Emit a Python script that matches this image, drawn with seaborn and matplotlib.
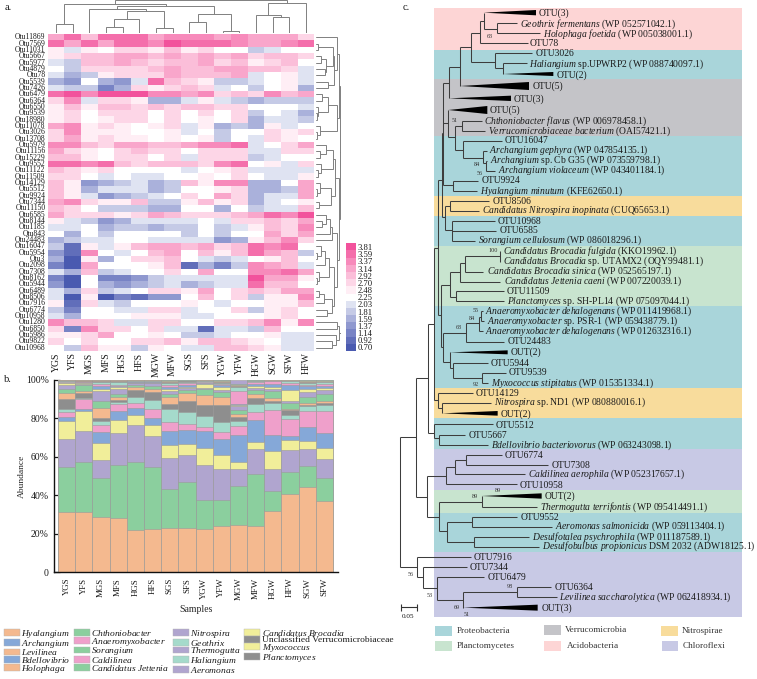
import matplotlib
matplotlib.use("Agg")
import numpy as np
import pandas as pd
import seaborn as sns
import matplotlib.pyplot as plt
from matplotlib.colors import ListedColormap
from matplotlib.patches import Patch, Polygon, Rectangle

# ---- panel a: heatmap values ----
otu_names = ["Otu11869", "Otu7569", "Otu11031", "Otu5667", "Otu5977", "Otu4879", "Otu78", "Otu5539", "Otu7426", "Otu6479",
             "Otu6364", "Otu6550", "Otu9539", "Otu18980", "Otu11078", "Otu3026", "Otu13708", "Otu5979", "Otu11156", "Otu15229",
             "Otu9552", "Otu11122", "Otu11509", "Otu14129", "Otu5512", "Otu9924", "Otu7344", "Otu11150", "Otu6585", "Otu8144",
             "Otu1185", "Otu843", "Otu24483", "Otu16047", "Otu5954", "Otu3", "Otu2098", "Otu7308", "Otu8162", "Otu5944",
             "Otu6489", "Otu8506", "Otu7916", "Otu6774", "Otu10958", "Otu1280", "Otu6850", "Otu5986", "Otu9822", "Otu10968"]
heat_samples = ["YGS", "YFS", "MGS", "MFS", "HGS", "HFS", "MGW", "MFW", "SGS", "SFS", "YGW", "YFW", "HGW", "SGW", "SFW", "HFW"]
heat_values = [
    [3.2, 3.5, 3.0, 3.6, 3.5, 3.6, 3.1, 3.3, 3.4, 3.4, 3.2, 3.4, 3.1, 3.1, 3.1, 2.6],
    [3.6, 3.2, 3.6, 3.2, 3.5, 3.5, 3.3, 3.7, 3.5, 3.5, 3.5, 3.4, 3.2, 3.2, 3.4, 3.5],
    [2.5, 2.1, 2.5, 2.36, 2.8, 2.7, 2.5, 3.0, 2.5, 2.8, 2.36, 2.36, 1.8, 2.1, 2.36, 2.36],
    [2.5, 2.7, 3.0, 3.0, 3.2, 3.1, 2.9, 3.1, 3.0, 3.2, 2.9, 3.1, 2.6, 3.0, 3.0, 2.7],
    [2.1, 1.8, 2.9, 2.9, 3.1, 3.0, 2.7, 3.0, 2.9, 3.1, 2.8, 3.0, 2.5, 2.7, 2.9, 2.36],
    [2.36, 1.8, 2.7, 2.7, 2.8, 2.8, 3.0, 3.1, 3.0, 3.0, 3.1, 3.2, 2.9, 2.9, 2.6, 2.1],
    [2.1, 1.6, 1.8, 2.5, 2.7, 2.7, 2.8, 3.1, 3.0, 3.0, 3.0, 3.2, 2.1, 2.36, 2.5, 2.1],
    [1.6, 1.3, 2.36, 1.6, 1.3, 2.1, 3.5, 3.0, 2.7, 2.5, 1.7, 1.7, 2.1, 2.36, 2.5, 2.1],
    [2.1, 1.8, 1.8, 1.1, 1.6, 2.7, 2.5, 2.8, 2.9, 2.6, 2.1, 2.36, 1.8, 2.36, 2.5, 1.5],
    [3.6, 3.7, 3.3, 3.7, 3.7, 3.8, 3.4, 3.4, 3.1, 3.4, 2.8, 3.0, 2.8, 3.3, 3.0, 3.1],
    [2.7, 3.3, 2.1, 2.7, 2.7, 2.5, 1.6, 1.5, 2.1, 2.5, 2.1, 1.8, 1.5, 1.7, 1.7, 1.7],
    [2.5, 3.0, 2.5, 2.9, 2.9, 2.8, 2.9, 2.8, 2.9, 3.0, 2.8, 2.7, 2.36, 2.36, 2.36, 2.1],
    [2.5, 2.8, 2.36, 2.6, 2.8, 2.7, 2.36, 2.7, 2.36, 2.6, 2.36, 2.6, 1.8, 2.36, 2.1, 1.6],
    [2.5, 2.7, 2.36, 2.5, 2.7, 2.7, 2.36, 2.6, 2.36, 2.5, 2.36, 2.6, 1.6, 2.1, 2.1, 1.8],
    [3.1, 3.4, 2.5, 2.7, 2.5, 2.36, 2.5, 2.8, 2.1, 2.5, 1.6, 1.8, 1.5, 2.5, 2.1, 2.36],
    [2.8, 3.3, 2.5, 2.5, 2.5, 2.36, 2.36, 2.5, 2.1, 2.36, 1.8, 2.36, 2.36, 2.7, 2.5, 2.7],
    [2.8, 3.2, 2.5, 2.7, 2.5, 2.5, 2.36, 2.5, 2.36, 2.5, 1.8, 2.36, 2.1, 2.7, 2.5, 2.36],
    [3.3, 3.4, 2.9, 2.7, 3.1, 3.2, 3.0, 3.0, 3.1, 3.4, 3.4, 3.6, 2.1, 2.36, 2.8, 3.2],
    [3.1, 2.8, 2.5, 2.36, 2.8, 3.0, 2.6, 2.7, 2.36, 2.8, 2.7, 2.8, 2.1, 2.1, 2.6, 2.7],
    [3.0, 3.0, 2.5, 2.36, 2.6, 2.8, 2.36, 2.6, 2.1, 2.6, 2.7, 2.8, 1.8, 2.1, 2.36, 2.36],
    [3.5, 3.5, 3.3, 3.5, 3.0, 2.6, 3.0, 3.0, 2.9, 2.7, 3.3, 3.5, 2.36, 2.5, 2.1, 2.7],
    [2.9, 2.8, 2.5, 2.6, 2.36, 2.36, 2.36, 2.36, 2.1, 2.36, 2.5, 2.6, 2.1, 2.1, 2.1, 2.1],
    [2.8, 2.8, 2.36, 2.1, 2.36, 2.1, 2.1, 2.36, 2.36, 2.5, 2.36, 2.8, 2.36, 2.1, 2.1, 2.5],
    [3.0, 2.5, 1.3, 1.6, 1.8, 2.1, 1.6, 1.8, 3.0, 2.5, 3.3, 3.3, 1.5, 1.5, 2.36, 3.1],
    [3.0, 2.5, 1.6, 2.1, 2.1, 2.1, 1.6, 1.8, 2.36, 2.36, 2.5, 2.6, 1.6, 1.6, 1.8, 3.1],
    [3.0, 2.5, 2.1, 1.3, 1.5, 1.8, 2.1, 2.36, 2.8, 2.36, 3.1, 2.7, 1.6, 2.1, 2.1, 3.1],
    [3.2, 3.3, 2.6, 2.5, 2.5, 2.9, 1.8, 1.8, 2.5, 3.0, 2.5, 2.8, 1.6, 2.1, 2.36, 2.5],
    [3.0, 2.8, 2.36, 1.8, 1.8, 1.8, 1.5, 1.5, 2.36, 2.36, 1.6, 2.36, 1.8, 2.1, 2.1, 3.0],
    [3.1, 2.8, 2.8, 2.8, 2.5, 2.6, 3.1, 2.9, 2.8, 2.6, 2.6, 2.9, 3.1, 3.6, 3.3, 3.7],
    [2.5, 2.1, 1.8, 1.3, 1.5, 2.1, 2.1, 2.1, 2.1, 2.36, 2.1, 2.8, 2.6, 2.9, 2.8, 3.2],
    [2.1, 2.1, 2.36, 1.6, 1.8, 1.8, 1.5, 1.8, 1.7, 2.36, 1.8, 2.1, 2.5, 2.9, 2.8, 3.3],
    [2.36, 1.6, 2.36, 1.8, 2.36, 2.36, 2.36, 2.36, 1.8, 2.36, 1.8, 2.36, 2.36, 3.1, 2.8, 3.1],
    [1.6, 1.8, 2.1, 2.1, 2.36, 2.36, 2.1, 2.1, 2.1, 2.1, 1.3, 1.5, 2.5, 2.9, 3.3, 2.7],
    [1.8, 1.0, 2.5, 2.1, 2.5, 2.9, 3.1, 3.1, 2.9, 3.1, 2.6, 2.9, 3.5, 3.4, 3.6, 2.36],
    [1.3, 0.9, 3.3, 2.36, 2.1, 2.36, 3.0, 3.2, 2.36, 2.9, 2.5, 2.9, 3.6, 3.1, 3.0, 1.8],
    [1.6, 0.8, 2.5, 1.6, 2.36, 2.8, 2.6, 3.0, 2.36, 2.1, 1.8, 2.1, 2.36, 2.5, 2.9, 2.36],
    [1.1, 0.7, 3.2, 2.36, 2.36, 2.36, 2.5, 3.0, 1.0, 1.5, 1.2, 1.8, 3.4, 3.2, 3.0, 2.1],
    [2.1, 1.5, 2.9, 1.8, 2.1, 2.36, 2.36, 2.6, 2.36, 3.1, 2.36, 2.36, 3.3, 3.3, 3.6, 3.1],
    [1.2, 0.8, 2.36, 1.1, 1.2, 1.4, 1.7, 2.1, 2.1, 2.1, 2.1, 2.1, 3.7, 3.2, 3.2, 2.5],
    [1.3, 0.8, 2.36, 1.6, 1.3, 1.5, 1.8, 2.1, 1.5, 1.8, 2.1, 2.1, 3.6, 2.9, 2.9, 2.36],
    [2.1, 1.5, 2.8, 1.8, 2.1, 2.36, 2.8, 2.8, 2.5, 3.1, 2.36, 2.8, 2.9, 2.7, 3.1, 3.1],
    [2.1, 0.8, 2.5, 0.8, 1.1, 1.0, 1.3, 1.3, 2.36, 2.9, 2.36, 2.7, 1.7, 2.5, 2.5, 3.4],
    [2.5, 0.9, 2.8, 2.1, 1.7, 2.36, 2.36, 2.36, 2.5, 2.36, 2.1, 2.36, 2.36, 2.5, 2.5, 2.9],
    [1.8, 1.2, 2.36, 2.36, 2.1, 2.1, 2.7, 2.8, 2.1, 2.36, 2.36, 2.8, 1.8, 2.5, 2.6, 2.36],
    [2.1, 1.5, 2.36, 2.36, 2.36, 2.5, 2.5, 2.5, 2.1, 2.1, 2.36, 2.36, 2.36, 2.5, 2.8, 2.36],
    [3.3, 3.0, 3.0, 2.8, 2.1, 2.1, 2.8, 2.7, 2.36, 2.36, 2.8, 2.8, 3.0, 3.3, 2.5, 3.4],
    [2.8, 1.1, 3.3, 2.8, 2.8, 2.36, 2.8, 2.1, 2.1, 0.9, 2.1, 2.1, 1.8, 3.0, 2.36, 2.36],
    [2.5, 2.5, 2.8, 3.1, 2.36, 2.36, 2.5, 2.36, 1.8, 1.7, 2.1, 2.36, 2.36, 2.5, 2.1, 2.1],
    [2.8, 2.36, 2.8, 2.36, 2.36, 2.6, 2.6, 2.9, 2.5, 3.0, 2.9, 2.7, 2.5, 2.36, 2.1, 2.1],
    [2.36, 1.8, 3.0, 2.5, 2.5, 1.8, 2.5, 2.36, 2.1, 2.1, 3.0, 3.0, 2.6, 2.5, 2.1, 2.1],
]
cbar_levels = [0.70, 0.92, 1.14, 1.37, 1.59, 1.81, 2.03, 2.25, 2.48, 2.70, 2.92, 3.14, 3.37, 3.59, 3.81]

# dendrograms: (height, left, right), a leaf is its row or column number
col_a = (83, (73, 2, (68, (42, (20, 3, 4), 5), (15, 6, 7))), (58, (33, 8, 9), (8, 10, 11)))
col_tree = (100, (87, (27, 0, 1), col_a), (92, (55, 12, (48, 13, 14)), 15))
row_a = (82, 0, (72, (55, 7, 8), (68, (25, 1, 2), (48, (33, 3, 4), (45, 5, 6)))))
row_b = (80, (55, (35, 9, 10), (24, 11, (20, 12, 13))), (30, 14, (22, 15, 16)))
row_c = (75, (68, (48, 17, (30, 18, 19)), (32, 20, (24, 21, 22))), (62, (30, 23, (22, 24, 25)), (28, 26, 27)))
row_d = (66, (60, (48, 28, (35, 29, 30)), 31), 32)
row_e = (72, (58, (45, (32, 33, (22, 34, 35)), 36), (28, 37, (22, 38, 39))), (66, (42, (28, 40, 41), 42), (50, 43, 44)))
row_f = (86, (80, 45, 46), (78, 47, (65, 48, 49)))
row_tree = (92, (90, (88, row_a, row_b), (86, row_c, (80, row_d, row_e))), row_f)

# ---- panel b: stacked abundance, cumulative tops per sample ----
bar_samples = ["YGS", "YFS", "MGS", "MFS", "HGS", "HFS", "SGS", "SFS", "YGW", "YFW", "MGW", "MFW", "HGW", "HFW", "SGW", "SFW"]
stack_tops = [
    [31.2, 54.5, 69.2, 78.4, 80.8, 83.2, 84.9, 90.1, 93, 95.1, 97.4, 98, 98.4, 98.7, 99, 99.3, 99.5, 99.8, 100],
    [31.3, 57.2, 73.1, 83.5, 84.7, 90, 90.3, 93, 94, 97, 97.6, 98, 98.3, 98.6, 98.9, 99.2, 99.5, 99.8, 100],
    [28.6, 49, 58, 67, 72.9, 76.3, 78.4, 80.2, 85, 88.6, 94, 95.2, 96.5, 97.5, 98.8, 99.2, 99.5, 99.8, 100],
    [28.2, 55.8, 72.4, 78.9, 83.8, 87.2, 88.4, 89.5, 91, 92.5, 95.3, 96, 96.8, 97.3, 98.8, 99.2, 99.5, 99.8, 100],
    [21.8, 57, 76.3, 81.4, 85.2, 88, 91, 94.8, 96.3, 97, 98, 98.3, 98.6, 98.9, 99.1, 99.3, 99.5, 99.8, 100],
    [22.2, 54.8, 70.9, 76.3, 80.2, 84.5, 89.6, 93.5, 95.3, 96.6, 98, 98.3, 98.6, 98.9, 99.1, 99.3, 99.5, 99.8, 100],
    [23.1, 43.2, 59.2, 65.8, 73.2, 77.7, 84.8, 87.5, 91, 92.5, 94, 95, 96, 97.2, 98, 98.8, 99.2, 99.6, 100],
    [22.8, 46.7, 61, 66.8, 73.6, 76.8, 83.2, 88.8, 92.8, 94.3, 95.5, 96.3, 97, 98, 98.6, 99, 99.4, 99.7, 100],
    [22.2, 37.4, 55.8, 64.4, 73.4, 75.5, 81, 87, 92, 95, 95.8, 97.7, 98.4, 98.8, 99.1, 99.4, 99.6, 99.8, 100],
    [24.2, 37.7, 53.8, 60.7, 69.1, 72.8, 78, 86.7, 91, 93.5, 94.5, 96, 97, 97.5, 98, 98.5, 99, 99.5, 100],
    [24.5, 44.6, 53.4, 57.3, 71, 76, 78.5, 80.5, 82, 84, 86.3, 87, 87.3, 94, 96, 96.5, 97, 97.8, 100],
    [23.9, 51, 63.8, 67.6, 78.8, 83, 87.4, 90.5, 92.7, 94.5, 95.7, 96.7, 97.7, 98.8, 99, 99.2, 99.4, 99.7, 100],
    [31.9, 42.1, 53.7, 62.9, 71.4, 84.4, 88, 89, 90.4, 93.8, 95, 96, 97.7, 99, 99.2, 99.4, 99.6, 99.8, 100],
    [40.7, 52, 63.6, 68.5, 70.6, 79.4, 81.5, 84, 84.8, 87.8, 89, 94.6, 97.2, 98, 99, 99.3, 99.5, 99.8, 100],
    [44.3, 55.2, 63.7, 68, 75.4, 83.8, 86, 87, 87.7, 90.8, 93.6, 95, 96.5, 97.3, 98.3, 98.8, 99.2, 99.6, 100],
    [37, 49, 59, 64.3, 72.5, 83.7, 87, 88, 89, 92.5, 94.4, 95.5, 96.7, 97.5, 98.5, 98.9, 99.3, 99.7, 100],
]
bar_colors = ["#f4b98f", "#8bcf9e", "#b0a5cf", "#f1ee9a", "#85a8d8", "#efa0cb", "#a5dacb", "#8e8e8e"]
# taxa from the bottom of the stack up; colours cycle through bar_colors
stack_taxa = [r"$\mathit{Hyalangium}$", r"$\mathit{Chthoniobacter}$", r"$\mathit{Nitrospira}$", r"$\mathit{Candidatus\ Brocadia}$",
              r"$\mathit{Archangium}$", r"$\mathit{Anaeromyxobacter}$", r"$\mathit{Geothrix}$", "Unclassified Verrucomicrobiaceae",
              r"$\mathit{Levilinea}$", r"$\mathit{Sorangium}$", r"$\mathit{Thermogutta}$", r"$\mathit{Myxococcus}$",
              r"$\mathit{Bdellovibrio}$", r"$\mathit{Caldilinea}$", r"$\mathit{Haliangium}$", r"$\mathit{Planctomyces}$",
              r"$\mathit{Holophaga}$", r"$\mathit{Candidatus\ Jettenia}$", r"$\mathit{Aeromonas}$"]
legend_order = [0, 4, 8, 12, 16, 1, 5, 9, 13, 17, 2, 6, 10, 14, 18, 3, 7, 11, 15]

# ---- panel c: tree, x and y in tree units (3 per pixel) ----
phyla = {"Proteobacteria": "#a9d5da", "Planctomycetes": "#c8e4cf", "Verrucomicrobia": "#c4c4c8",
         "Acidobacteria": "#fdd5d5", "Nitrospirae": "#f8dc9c", "Chloroflexi": "#c8c9e5"}
tree_bands = [("Acidobacteria", 24, 149), ("Proteobacteria", 149, 237), ("Verrucomicrobia", 237, 407),
              ("Proteobacteria", 407, 588), ("Nitrospirae", 588, 647), ("Proteobacteria", 647, 737),
              ("Planctomycetes", 737, 918), ("Proteobacteria", 918, 1163), ("Nitrospirae", 1163, 1253),
              ("Proteobacteria", 1253, 1348), ("Chloroflexi", 1348, 1469), ("Planctomycetes", 1469, 1538),
              ("Proteobacteria", 1538, 1655), ("Chloroflexi", 1655, 1851)]
tree_h = [(70, 350, 410), (100, 350, 480), (88, 311, 350), (130, 300, 443), (62, 300, 311), (98, 272, 300),
          (140, 240, 272), (185, 272, 345), (160, 345, 455), (205, 345, 370), (190, 370, 440), (200, 207, 240),
          (250, 190, 207), (400, 185, 190), (370, 190, 205), (410, 205, 224), (378, 224, 247), (362, 247, 305),
          (392, 247, 315), (450, 224, 248), (422, 248, 365), (475, 248, 308), (452, 308, 320), (490, 308, 318),
          (482, 318, 322), (512, 318, 345), (555, 190, 220), (542, 220, 295), (572, 220, 290), (540, 175, 185),
          (650, 185, 195), (618, 195, 210), (603, 210, 328), (632, 210, 298), (690, 195, 215), (663, 215, 345),
          (692, 215, 348), (722, 215, 285), (745, 163, 175), (945, 175, 183), (855, 183, 210), (815, 210, 241),
          (790, 241, 255), (768, 255, 360), (815, 255, 310), (845, 241, 360), (890, 210, 228), (873, 228, 372),
          (904, 228, 372), (1040, 183, 188), (998, 188, 257), (970, 257, 297), (1025, 257, 373), (950, 297, 302),
          (934, 302, 310), (964, 302, 313), (993, 297, 308), (1085, 188, 210), (1105, 210, 218), (1090, 218, 323),
          (1133, 218, 307), (1118, 307, 378), (1150, 307, 323), (1200, 163, 175), (1180, 175, 278), (1225, 175, 187),
          (1209, 187, 333), (973, 145, 163), (1298, 145, 163), (1272, 163, 338), (1315, 163, 178), (1305, 178, 255),
          (1335, 178, 325), (1135, 108, 145), (1310, 60, 108), (1490, 108, 140), (1428, 140, 198), (1402, 198, 225),
          (1380, 225, 257), (1365, 257, 365), (1395, 257, 505), (1423, 225, 435), (1453, 198, 410), (1550, 140, 178),
          (1505, 178, 305), (1520, 305, 470), (1593, 178, 202), (1565, 202, 275), (1550, 275, 412), (1580, 275, 515),
          (1625, 202, 283), (1610, 283, 447), (1640, 283, 477), (1700, 60, 112), (1670, 112, 272), (1730, 112, 128),
          (1700, 128, 260), (1765, 128, 170), (1730, 170, 312), (1800, 170, 250), (1775, 250, 410), (1760, 410, 513),
          (1790, 410, 530)]
tree_v = [(311, 38, 88), (350, 70, 100), (300, 62, 130), (272, 98, 185), (345, 160, 205), (370, 190, 222), (240, 140, 258),
          (207, 200, 295), (190, 250, 555), (205, 330, 410), (224, 378, 450), (247, 362, 392), (248, 422, 475),
          (308, 452, 490), (318, 482, 512), (220, 542, 572), (185, 400, 650), (195, 618, 690), (210, 603, 632),
          (215, 663, 722), (175, 540, 945), (163, 745, 1200), (183, 855, 1040), (210, 815, 890), (241, 790, 845),
          (255, 768, 815), (360, 753, 785), (228, 873, 904), (188, 998, 1085), (257, 970, 1025), (297, 950, 993),
          (302, 934, 964), (210, 1057, 1105), (218, 1090, 1133), (307, 1118, 1150), (175, 1180, 1225), (187, 1209, 1240),
          (145, 973, 1298), (163, 1272, 1315), (178, 1305, 1335), (108, 1135, 1490), (60, 1310, 1700), (140, 1428, 1550),
          (198, 1402, 1453), (225, 1380, 1423), (257, 1365, 1395), (178, 1505, 1593), (305, 1488, 1520), (202, 1565, 1625),
          (275, 1550, 1580), (283, 1610, 1640), (112, 1670, 1730), (128, 1700, 1765), (170, 1730, 1800), (250, 1775, 1823),
          (410, 1760, 1790)]
# collapsed clades: apex x, apex y, end x, half height
tree_wedges = [(311, 38, 468, 8), (370, 222, 520, 6), (240, 258, 447, 12), (207, 295, 393, 8), (205, 330, 322, 12),
               (210, 1057, 383, 6), (187, 1240, 353, 7), (305, 1488, 485, 8), (250, 1823, 473, 9)]
tree_tips = [(475, 40, "OTU(3)"), (420, 73, r"$\mathit{Geothrix\ fermentans}$ (WP 052571042.1)"),
             (488, 104, r"$\mathit{Holophaga\ foetida}$ (WP 005038001.1)"), (450, 132, "OTU78"), (467, 162, "OTU3026"),
             (447, 192, r"$\mathit{Haliangium}$ sp.UPWRP2 (WP 088740097.1)"), (530, 226, "OTU(2)"), (458, 260, "OTU(5)"),
             (402, 297, "OTU(3)"), (328, 330, "OTU(5)"), (312, 363, r"$\mathit{Chthoniobacter\ flavus}$ (WP 006978458.1)"),
             (325, 393, r"$\mathit{Verrucomicrobiaceae\ bacterium}$ (OAI57421.1)"), (373, 422, "OTU16047"),
             (328, 452, r"$\mathit{Archangium\ gephyra}$ (WP 047854135.1)"), (330, 482, r"$\mathit{Archangium}$ sp. Cb G35 (WP 073559798.1)"),
             (353, 512, r"$\mathit{Archangium\ violaceum}$ (WP 043401184.1)"), (305, 542, "OTU9924"),
             (300, 573, r"$\mathit{Hyalangium\ minutum}$ (KFE62650.1)"), (337, 604, "OTU8506"),
             (306, 632, r"$\mathit{Candidatus\ Nitrospira\ inopinata}$ (CUQ65653.1)"), (353, 663, "OTU10968"), (358, 692, "OTU6585"),
             (293, 721, r"$\mathit{Sorangium\ cellulosum}$ (WP 086018296.1)"), (370, 753, r"$\mathit{Candidatus\ Brocadia\ fulgida}$ (KKO19962.1)"),
             (370, 785, r"$\mathit{Candidatus\ Brocadia}$ sp. UTAMX2 (OQY99481.1)"), (320, 815, r"$\mathit{Candidatus\ Brocadia\ sinica}$ (WP 052565197.1)"),
             (372, 845, r"$\mathit{Candidatus\ Jettenia\ caeni}$ (WP 007220039.1)"), (380, 875, "OTU11509"),
             (380, 905, r"$\mathit{Planctomyces}$ sp. SH-PL14 (WP 075097044.1)"), (315, 934, r"$\mathit{Anaeromyxobacter\ dehalogenans}$ (WP 011419968.1)"),
             (320, 964, r"$\mathit{Anaeromyxobacter}$ sp. PSR-1 (WP 059438779.1)"), (315, 994, r"$\mathit{Anaeromyxobacter\ dehalogenans}$ (WP 012632316.1)"),
             (382, 1025, "OTU24483"), (392, 1058, "OUT(2)"), (332, 1090, "OTU5944"), (387, 1118, "OTU9539"),
             (332, 1150, r"$\mathit{Myxococcus\ stipitatus}$ (WP 015351334.1)"), (287, 1181, "OTU14129"),
             (341, 1208, r"$\mathit{Nitrospira}$ sp. ND1 (WP 080880016.1)"), (361, 1242, "OUT(2)"), (347, 1276, "OTU5512"), (266, 1307, "OTU5667"),
             (333, 1335, r"$\mathit{Bdellovibrio\ bacteriovorus}$ (WP 063243098.1)"), (375, 1365, "OTU6774"), (515, 1395, "OTU7308"),
             (443, 1423, r"$\mathit{Caldilinea\ aerophila}$ (WP 052317657.1)"), (419, 1455, "OTU10958"), (494, 1490, "OUT(2)"),
             (480, 1521, r"$\mathit{Thermogutta\ terrifontis}$ (WP 095414491.1)"), (421, 1552, "OTU9552"),
             (525, 1580, r"$\mathit{Aeromonas\ salmonicida}$ (WP 059113404.1)"), (456, 1611, r"$\mathit{Desulfotalea\ psychrophila}$ (WP 011187589.1)"),
             (487, 1640, r"$\mathit{Desulfobulbus\ propionicus}$ DSM 2032 (ADW18125.1)"), (282, 1672, "OTU7916"), (270, 1702, "OTU7344"),
             (322, 1731, "OTU6479"), (523, 1762, "OTU6364"), (538, 1791, r"$\mathit{Levilinea\ saccharolytica}$ (WP 062418934.1)"),
             (485, 1826, "OUT(3)")]
tree_support = [(330, 108, "63"), (225, 362, "51"), (290, 495, "84"), (300, 520, "56"), (338, 752, "100"), (286, 932, "55"),
                (276, 955, "84"), (237, 982, "68"), (287, 1155, "92"), (285, 1488, "89"), (353, 1472, "89"), (390, 1761, "98"),
                (92, 1723, "56"), (150, 1787, "53"), (230, 1822, "69"), (260, 1845, "51")]
phylum_legend = [("Proteobacteria", 165, 1878, 230), ("Planctomycetes", 165, 1923, 230), ("Verrucomicrobia", 493, 1875, 555),
                 ("Acidobacteria", 493, 1924, 560), ("Nitrospirae", 843, 1878, 905), ("Chloroflexi", 845, 1924, 907)]

W, H = 757, 679
sns.set_theme(style="white")
plt.rcParams["font.family"] = ["Liberation Serif", "DejaVu Serif"]
plt.rcParams["mathtext.fontset"] = "custom"
plt.rcParams["mathtext.rm"] = "Liberation Serif"
plt.rcParams["mathtext.it"] = "Liberation Serif:italic"
plt.rcParams["text.color"] = "#1a1a1a"
plt.rcParams["xtick.color"] = "#1a1a1a"
plt.rcParams["ytick.color"] = "#1a1a1a"

fig = plt.figure(figsize=(W / 100, H / 100), dpi=100, facecolor="white")


def px_axes(left, top, right, bottom):
    return fig.add_axes([left / W, 1 - bottom / H, (right - left) / W, (bottom - top) / H])


def draw_tree(node, ax, sideways, leaf_height):
    if not isinstance(node, tuple):
        return node + 0.5, leaf_height
    pa, ha = draw_tree(node[1], ax, sideways, leaf_height)
    pb, hb = draw_tree(node[2], ax, sideways, leaf_height)
    pos = [pa, pa, pb, pb]
    hgt = [ha, node[0], node[0], hb]
    if sideways:
        ax.plot(hgt, pos, color="#808080", lw=0.7, solid_joinstyle="miter")
    else:
        ax.plot(pos, hgt, color="#808080", lw=0.7, solid_joinstyle="miter")
    return (pa + pb) / 2, node[0]


# panel a
heat_df = pd.DataFrame(heat_values, index=otu_names, columns=heat_samples)
blues = sns.blend_palette(["#4a5ab0", "#8f98cf", "#dfe3f2"], 7)
pinks = sns.blend_palette(["#ffeef5", "#f9a6cb", "#f2529c"], 7)
heat_cmap = ListedColormap(list(blues) + ["#ffffff"] + list(pinks))
step = (cbar_levels[-1] - cbar_levels[0]) / 14

ax_heat = px_axes(47.7, 34, 314.3, 351)
ax_cbar = px_axes(346, 243.3, 356, 351)
sns.heatmap(heat_df, ax=ax_heat, cmap=heat_cmap, vmin=cbar_levels[0] - step / 2, vmax=cbar_levels[-1] + step / 2,
            linewidths=0, xticklabels=heat_samples, yticklabels=otu_names,
            cbar_ax=ax_cbar, cbar_kws={"ticks": cbar_levels, "format": "%.2f"})
ax_heat.set_xlabel("")
ax_heat.set_ylabel("")
ax_heat.tick_params(axis="y", length=0, pad=1.5, labelsize=5.5, labelrotation=0)
ax_heat.tick_params(axis="x", length=0, pad=1, labelsize=7, labelrotation=90)
ax_cbar.tick_params(length=0, pad=1, labelsize=6.2)

ax_top = px_axes(47.7, 0, 314.3, 33.3)
ax_top.set_xlim(0, 16)
ax_top.set_ylim(0, 100)
ax_top.axis("off")
draw_tree(col_tree, ax_top, False, 0)

ax_side = px_axes(315.7, 34, 341, 351)
ax_side.set_xlim(17, 93)
ax_side.set_ylim(50, 0)
ax_side.axis("off")
draw_tree(row_tree, ax_side, True, 17)

# panel b
ax_bar = px_axes(54.3, 379.5, 338, 572.3)
tops = np.array(stack_tops)
for i in range(len(stack_taxa) - 1, -1, -1):
    sns.barplot(x=bar_samples, y=tops[:, i], order=bar_samples, color=bar_colors[i % 8], saturation=1, width=1,
                edgecolor="#9a9a9a", linewidth=0.4, ax=ax_bar)
ax_bar.set_xlim(-0.715, 15.79)
ax_bar.set_ylim(0, 100)
ax_bar.set_yticks([0, 20, 40, 60, 80, 100])
ax_bar.set_yticklabels(["0", "20%", "40%", "60%", "80%", "100%"])
ax_bar.tick_params(axis="y", direction="in", length=4, width=0.9, labelsize=7, pad=4, left=True)
ax_bar.tick_params(axis="x", direction="in", length=4, width=0.9, labelsize=6.4, pad=4, labelrotation=90, bottom=True)
ax_bar.set_ylabel("Abundance", fontsize=6.8, labelpad=0)
ax_bar.set_xlabel("Samples", fontsize=7, labelpad=3)
sns.despine(ax=ax_bar)
for side in ["left", "bottom"]:
    ax_bar.spines[side].set_linewidth(1.0)
    ax_bar.spines[side].set_color("#111111")

handles = [Patch(facecolor=bar_colors[i % 8], edgecolor="#b5b5b5", linewidth=0.3, label=stack_taxa[i]) for i in legend_order]
fig.legend(handles=handles, ncol=4, loc="upper left", bbox_to_anchor=(4 / W, 1 - 628 / H), frameon=False, fontsize=6.8,
           borderpad=0, borderaxespad=0, handlelength=1.7, handleheight=0.75, handletextpad=0.15, columnspacing=0.35,
           labelspacing=-0.25)

# panel c
ax_tree = px_axes(380, 0, 757, 679)
ax_tree.set_xlim(0, 1131)
ax_tree.set_ylim(2037, 0)
ax_tree.axis("off")
for phylum, y0, y1 in tree_bands:
    ax_tree.add_patch(Rectangle((162, y0), 925, y1 - y0, facecolor=phyla[phylum], edgecolor="none", zorder=0))
for y, x0, x1 in tree_h:
    ax_tree.hlines(y, x0, x1, color="#3d3d3d", lw=0.75, zorder=2)
for x, y0, y1 in tree_v:
    ax_tree.vlines(x, y0, y1, color="#3d3d3d", lw=0.75, zorder=2)
for x0, y, x1, half in tree_wedges:
    ax_tree.add_patch(Polygon([(x0, y), (x1, y - half), (x1, y + half)], closed=True, facecolor="black", edgecolor="none", zorder=3))
for x, y, label in tree_tips:
    ax_tree.text(x, y, label, fontsize=6.9, va="center", ha="left", zorder=4)
for x, y, label in tree_support:
    ax_tree.text(x, y, label, fontsize=4.4, va="center", ha="center", color="#333333", zorder=4)

# scale bar
ax_tree.hlines(1822, 62, 112, color="#333333", lw=0.8)
ax_tree.vlines([62, 112], 1812, 1832, color="#333333", lw=0.8)
ax_tree.text(85, 1850, "0.05", fontsize=5.2, ha="center", va="center")

for phylum, x0, y0, tx in phylum_legend:
    ax_tree.add_patch(Rectangle((x0, y0), 50, 30, facecolor=phyla[phylum], edgecolor="none"))
    ax_tree.text(tx, y0 + 15, phylum, fontsize=6.6, va="center", ha="left", color="#333333")

fig.text(5 / W, 1 - 7 / H, "a.", fontsize=7.5, va="center")
fig.text(4 / W, 1 - 379 / H, "b.", fontsize=7.5, va="center")
fig.text(403 / W, 1 - 7 / H, "c.", fontsize=7.5, va="center")

fig.savefig("out.png", dpi=100)
